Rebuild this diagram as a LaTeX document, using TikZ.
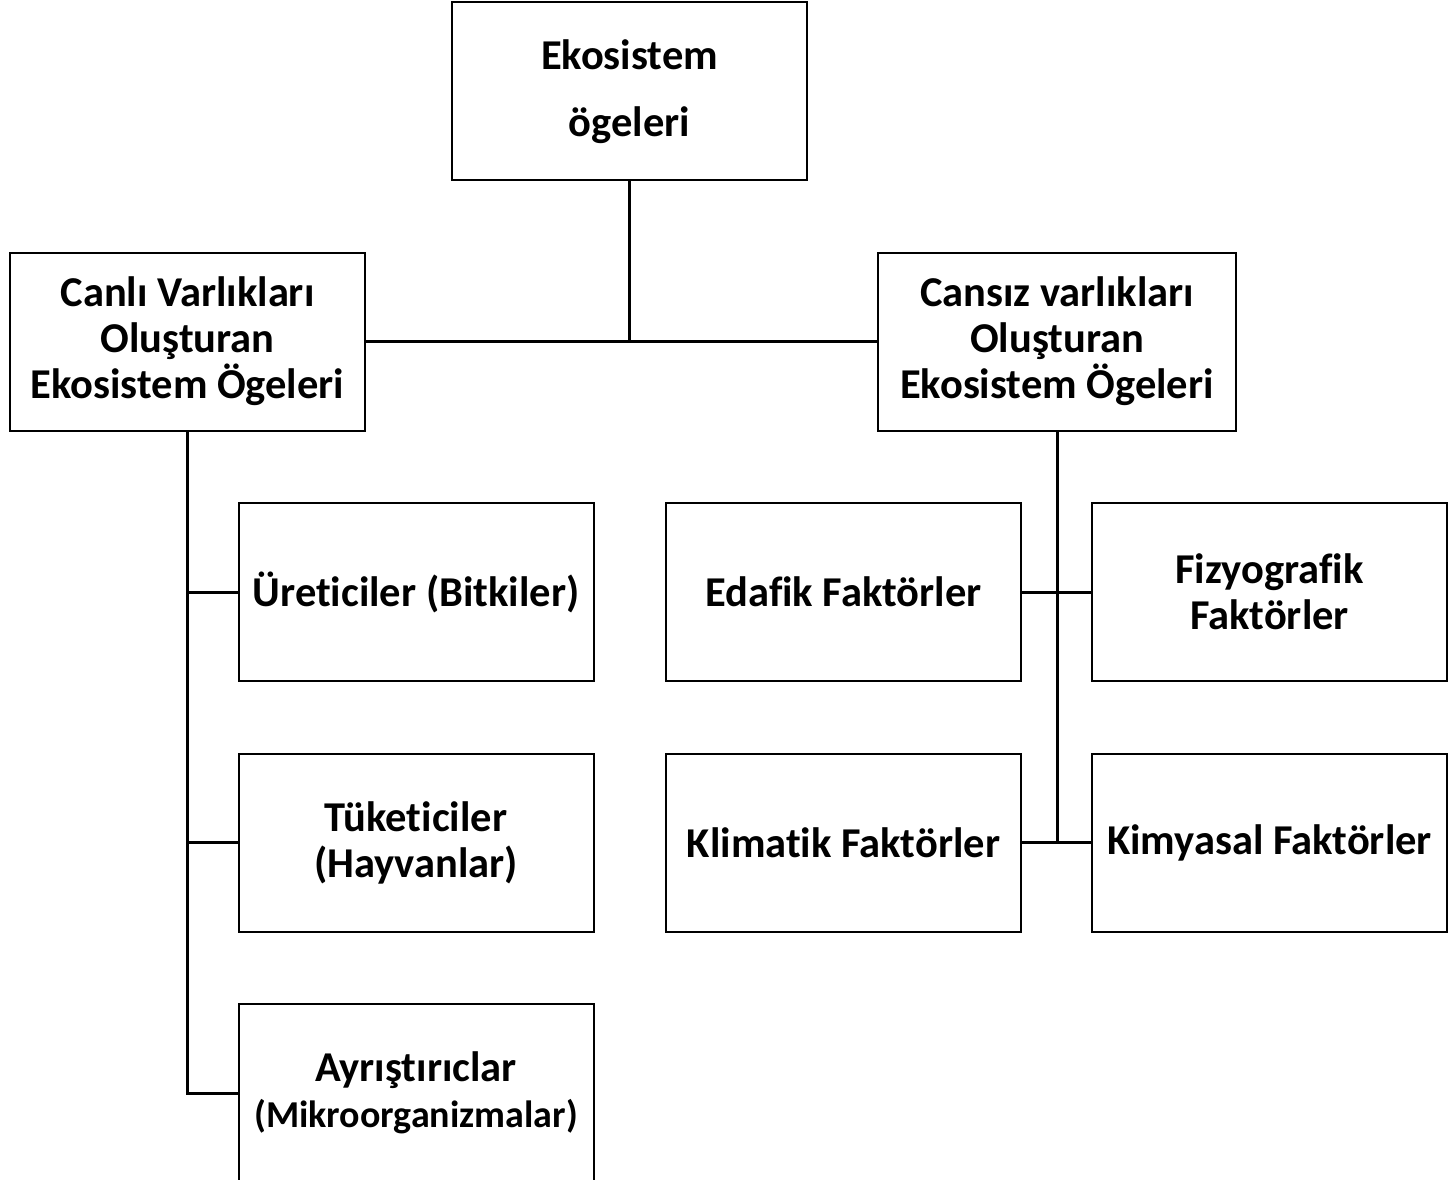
\documentclass[tikz,border=0pt]{standalone}
\usepackage{fontspec}
\setmainfont[Ligatures=NoCommon]{Carlito}
\begin{document}
\begin{tikzpicture}[x=1pt,y=-1pt,
  box/.style={draw,line width=2pt,rectangle,minimum width=355pt,minimum height=178pt,
    align=center,inner sep=0pt,font=\bfseries\fontsize{42.5}{46}\selectfont},
  link/.style={line width=3pt}]
\useasboundingbox[fill=white] (0,0) rectangle (1449,1180);

% top of the hierarchy
\node[box,font=\bfseries\fontsize{42.5}{67}\selectfont] (root) at (629.5,91.5) {Ekosistem\\ögeleri};

% second level
\node[box] (canli) at (187.5,341.5) {Canlı Varlıkları\\Oluşturan\\Ekosistem Ögeleri};
\node[box,minimum width=358pt] (cansiz) at (1057,341.5) {Cansız varlıkları\\Oluşturan\\Ekosistem Ögeleri};

% living components
\node[box] (uret) at (416,592) {Üreticiler (Bitkiler)};
\node[box] (tuk) at (416,842.5) {Tüketiciler\\(Hayvanlar)};
\node[box] (ayr) at (416,1093) {Ayrıştırıclar\\{\fontsize{38}{46}\selectfont(Mikroorganizmalar)}};

% non-living components
\node[box] (edaf) at (843.5,592) {Edafik Faktörler};
\node[box] (fizy) at (1269.5,592) {Fizyografik\\Faktörler};
\node[box] (klim) at (843.5,842.5) {Klimatik Faktörler};
\node[box] (kimy) at (1269.5,842.5) {Kimyasal Faktörler};

% connectors
\draw[link] (root.south) -- (root.south |- canli.east) coordinate (mid);
\draw[link] (canli.east) -- (cansiz.west);

\draw[link] (canli.south) -- (canli.south |- ayr.west) coordinate (lbot) -- (ayr.west);
\draw[link] (canli.south |- uret.west) -- (uret.west);
\draw[link] (canli.south |- tuk.west) -- (tuk.west);

\draw[link] (cansiz.south) -- (cansiz.south |- klim.east) coordinate (rbot);
\draw[link] (edaf.east) -- (fizy.west);
\draw[link] (klim.east) -- (kimy.west);
\end{tikzpicture}
\end{document}
